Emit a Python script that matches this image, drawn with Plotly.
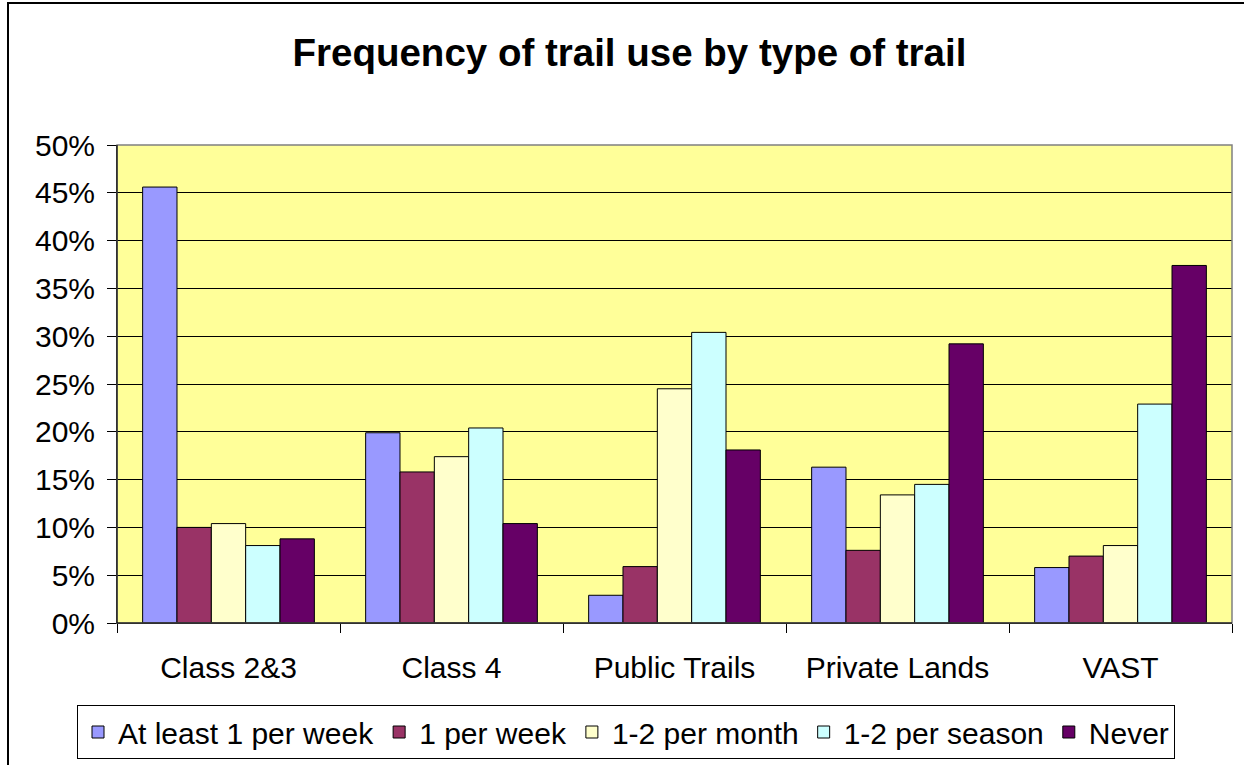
import plotly.graph_objects as go

categories = ["Class 2&3", "Class 4", "Public Trails", "Private Lands", "VAST"]
series_names = ["At least 1 per week", "1 per week", "1-2 per month", "1-2 per season", "Never"]
at_least_1_per_week = [0.456, 0.199, 0.029, 0.163, 0.058]
one_per_week = [0.100, 0.158, 0.059, 0.076, 0.070]
one_two_per_month = [0.104, 0.174, 0.245, 0.134, 0.081]
one_two_per_season = [0.081, 0.204, 0.304, 0.145, 0.229]
never = [0.088, 0.104, 0.181, 0.292, 0.374]
colors = ["#9999FF", "#993366", "#FFFFCC", "#CCFFFF", "#660066"]
y_ticks = [0, 0.05, 0.10, 0.15, 0.20, 0.25, 0.30, 0.35, 0.40, 0.45, 0.50]
y_tick_labels = ["0%", "5%", "10%", "15%", "20%", "25%", "30%", "35%", "40%", "45%", "50%"]

series_values = [at_least_1_per_week, one_per_week, one_two_per_month, one_two_per_season, never]

W, H = 1244, 765
ml, mr, mt, mb = 117, 12, 145, 142
pw, ph = W - ml - mr, H - mt - mb

FONT = "Arial, Liberation Sans, sans-serif"

fig = go.Figure()
for name, vals, col in zip(series_names, series_values, colors):
    fig.add_trace(go.Bar(
        x=categories, y=vals, name=name,
        marker=dict(color=col, line=dict(color="#000000", width=1)),
    ))

def px_to_paper_x(px):
    return (px - ml) / pw

def px_to_paper_y(py):
    return (H - mb - py) / ph

fig.update_layout(
    width=W, height=H,
    margin=dict(l=ml, r=mr, t=mt, b=mb, autoexpand=False),
    paper_bgcolor="white",
    plot_bgcolor="#FFFF99",
    barmode="group",
    bargap=0.23,
    bargroupgap=0,
    font=dict(family=FONT, size=30, color="black"),
    title=dict(
        text="Frequency of trail use by type of trail",
        x=0.506, xanchor="center", xref="container",
        y=1 - 53 / H, yanchor="middle", yref="container",
        font=dict(family=FONT, size=38.5, color="black", weight="bold"),
    ),
    showlegend=True,
    legend=dict(
        orientation="h",
        xref="container", yref="container",
        x=626 / W, xanchor="center",
        y=1 - 705 / H, yanchor="top",
        bordercolor="#000000", borderwidth=1,
        bgcolor="white",
        font=dict(family=FONT, size=30, color="black"),
        traceorder="normal",
        itemwidth=30,
        tracegroupgap=0,
    ),
    xaxis=dict(
        type="category",
        showgrid=False,
        showline=True, linecolor="#000000", linewidth=1,
        ticks="outside", ticklen=9, tickcolor="#000000", tickwidth=1,
        tickson="boundaries",
        ticklabelstandoff=18,
        tickfont=dict(family=FONT, size=30, color="black"),
    ),
    yaxis=dict(
        range=[0, 0.5],
        tickvals=y_ticks, ticktext=y_tick_labels,
        showgrid=True, gridcolor="#000000", gridwidth=1,
        showline=True, linecolor="#000000", linewidth=1,
        ticks="outside", ticklen=9, tickcolor="#000000", tickwidth=1,
        ticklabelstandoff=6,
        zeroline=False,
        tickfont=dict(family=FONT, size=30, color="black"),
    ),
    shapes=[
        dict(type="rect", xref="paper", yref="paper", x0=0, x1=1, y0=0, y1=1,
             line=dict(color="#808080", width=1.5), fillcolor="rgba(0,0,0,0)", layer="above"),
        dict(type="line", xref="paper", yref="paper", x0=0, x1=0, y0=0, y1=1,
             line=dict(color="#000000", width=1), layer="above"),
        dict(type="line", xref="paper", yref="paper", x0=0, x1=1, y0=0, y1=0,
             line=dict(color="#000000", width=1), layer="above"),
        dict(type="rect", xref="paper", yref="paper",
             x0=px_to_paper_x(8), x1=px_to_paper_x(1250),
             y0=px_to_paper_y(775), y1=px_to_paper_y(3),
             line=dict(color="#000000", width=2), fillcolor="rgba(0,0,0,0)", layer="below"),
    ],
)

fig.write_html(
    "out.html",
    config={"displayModeBar": False},
    post_script="document.body.style.margin='0';document.body.style.overflow='hidden';",
)
